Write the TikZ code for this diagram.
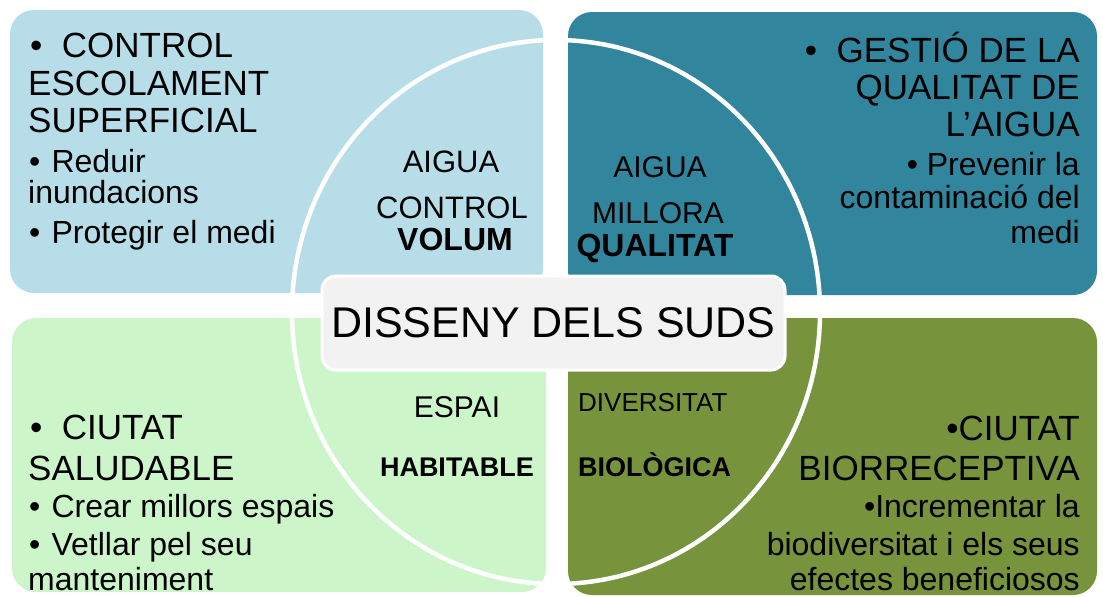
\documentclass[tikz,border=0pt]{standalone}
\usepackage{fontspec}
\setmainfont{Liberation Sans}
\definecolor{aigualight}{HTML}{B7DEE8}
\definecolor{aiguadark}{HTML}{31859C}
\definecolor{espaigreen}{HTML}{CCF5CA}
\definecolor{bioolive}{HTML}{77933C}
\definecolor{titlegray}{HTML}{F2F2F2}
\tikzset{
  suds/box/.style={rounded corners=24pt},
  suds/head/.style={inner sep=0pt, font=\fontsize{35}{35}\selectfont},
  suds/item/.style={inner sep=0pt, font=\fontsize{32}{32}\selectfont},
  suds/mid/.style={inner sep=0pt, font=\fontsize{30}{30}\selectfont},
  suds/midbold/.style={inner sep=0pt, font=\fontsize{32}{32}\selectfont\bfseries},
}

\begin{document}
\begin{tikzpicture}[x=1pt, y=-1pt]
  \useasboundingbox (0,0) rectangle (1103,597);
  % the four quadrants
  \fill[aigualight, suds/box] (10,10) rectangle (543,293);
  \fill[aiguadark, suds/box] (568,12) rectangle (1097,295);
  \fill[espaigreen, suds/box] (12,318) rectangle (546,592);
  \fill[bioolive, suds/box] (568,318) rectangle (1097,595);
  \draw[white, line width=4.5pt] (556,312) ellipse [x radius=264, y radius=272];

  % top left
  \node[suds/head, anchor=base west] (volhead1) at (30,57) {•\ \ CONTROL};
  \node[suds/head, anchor=base west] (volhead2) at (28,95) {ESCOLAMENT};
  \node[suds/head, anchor=base west] (volhead3) at (28,132) {SUPERFICIAL};
  \node[suds/item, anchor=base west] (volitem1) at (29,172) {•\hspace{0.35em}Reduir};
  \node[suds/item, anchor=base west] (volitem2) at (28,203) {inundacions};
  \node[suds/item, anchor=base west] (volitem3) at (29,243) {•\hspace{0.35em}Protegir el medi};
  \node[suds/mid, font=\fontsize{31}{31}\selectfont, anchor=base] (volmid1) at (451,172) {AIGUA};
  \node[suds/mid, font=\fontsize{31}{31}\selectfont, anchor=base] (volmid2) at (452,218) {CONTROL};
  \node[suds/midbold, anchor=base] (volmid3) at (455,250) {VOLUM};

  % top right
  \node[suds/head, anchor=base east] (qualhead1) at (1080,62) {•\ \ GESTIÓ DE LA};
  \node[suds/head, anchor=base east] (qualhead2) at (1080,99) {QUALITAT DE};
  \node[suds/head, anchor=base east] (qualhead3) at (1080,136) {L’AIGUA};
  \node[suds/item, anchor=base east] (qualitem1) at (1080,175) {• Prevenir la};
  \node[suds/item, anchor=base east] (qualitem2) at (1080,208) {contaminació del};
  \node[suds/item, anchor=base east] (qualitem3) at (1080,243) {medi};
  \node[suds/mid, anchor=base] (qualmid1) at (660,177) {AIGUA};
  \node[suds/mid, anchor=base] (qualmid2) at (658,223) {MILLORA};
  \node[suds/midbold, anchor=base] (qualmid3) at (655,256) {QUALITAT};

  % bottom left
  \node[suds/head, anchor=base west] (habhead1) at (30,439) {•\ \ CIUTAT};
  \node[suds/head, anchor=base west] (habhead2) at (28,480) {SALUDABLE};
  \node[suds/item, anchor=base west] (habitem1) at (29,517) {•\hspace{0.35em}Crear millors espais};
  \node[suds/item, anchor=base west] (habitem2) at (29,555) {•\hspace{0.35em}Vetllar pel seu};
  \node[suds/item, anchor=base west] (habitem3) at (28,590) {manteniment};
  \node[suds/mid, anchor=base] (habmid1) at (457,417) {ESPAI};
  \node[suds/midbold, font=\fontsize{27}{27}\selectfont\bfseries, anchor=base] (habmid2) at (457,476) {HABITABLE};

  % bottom right
  \node[suds/head, anchor=base east] (biohead1) at (1080,440) {•CIUTAT};
  \node[suds/head, anchor=base east] (biohead2) at (1080,480) {BIORRECEPTIVA};
  \node[suds/item, anchor=base east] (bioitem1) at (1080,517) {•Incrementar la};
  \node[suds/item, anchor=base east] (bioitem2) at (1080,555) {biodiversitat i els seus};
  \node[suds/item, anchor=base east] (bioitem3) at (1080,590) {efectes beneficiosos};
  \node[suds/mid, font=\fontsize{26}{26}\selectfont, anchor=base west] (biomid1) at (578,411) {DIVERSITAT};
  \node[suds/midbold, font=\fontsize{27}{27}\selectfont\bfseries, anchor=base west] (biomid2) at (578,476) {BIOLÒGICA};

  % centre
  \node[draw=white, line width=3pt, fill=titlegray, rounded corners=14pt, minimum width=463pt, minimum height=94pt, inner sep=0pt, font=\fontsize{43}{43}\selectfont] (title) at (553.5,323) {DISSENY DELS SUDS};
\end{tikzpicture}
\end{document}
